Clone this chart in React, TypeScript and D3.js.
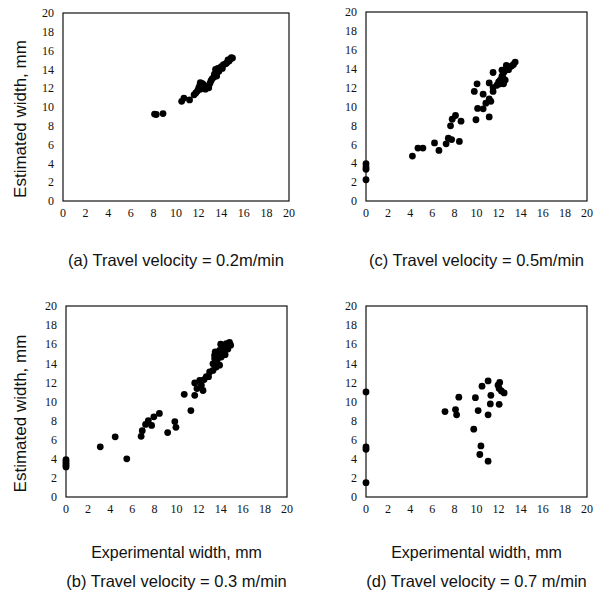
import React from "react";
import * as d3 from "d3";

// values: [experimental, estimated] in mm
const panelA: [number, number][] = [
  [8.1, 9.25], [8.25, 9.2], [8.85, 9.3],
  [10.5, 10.6], [10.7, 10.95], [11.2, 10.75],
  [11.6, 11.3], [11.75, 11.5], [11.9, 11.7], [12.0, 12.0], [12.1, 12.3],
  [12.15, 12.6], [12.3, 12.5], [12.35, 12.2], [12.5, 12.0], [12.6, 11.9],
  [12.15, 11.9], [12.7, 12.2], [12.9, 12.05], [13.0, 12.5], [13.1, 12.8],
  [13.2, 13.0], [13.35, 13.2], [13.5, 13.4], [13.6, 13.7], [13.5, 14.0],
  [13.7, 14.1], [13.8, 13.8], [13.6, 13.3], [14.0, 14.3], [14.2, 14.5],
  [14.4, 14.6], [14.5, 14.7], [14.7, 14.9], [14.8, 15.1], [14.9, 15.25],
  [15.0, 15.2], [14.6, 15.0], [13.4, 13.5], [12.4, 12.4], [14.1, 14.1]
];

const panelC: [number, number][] = [
  [0, 3.95], [0, 3.6], [0, 3.35], [0, 2.25],
  [4.2, 4.75], [4.7, 5.6], [5.15, 5.6], [6.2, 6.15], [6.6, 5.35],
  [7.25, 6.05], [7.45, 6.65], [7.75, 6.5], [7.65, 7.95], [7.8, 8.65],
  [8.1, 9.05], [8.6, 8.45], [8.45, 6.3], [9.95, 8.6], [9.8, 11.6],
  [10.05, 12.4], [10.1, 9.8], [10.6, 11.3], [10.6, 9.75], [10.85, 10.35],
  [11.15, 10.8], [11.3, 10.55], [11.15, 8.9], [11.15, 12.5], [11.5, 13.6],
  [11.5, 12.0], [11.5, 11.6], [11.85, 12.25], [12.15, 12.4], [12.3, 13.2],
  [12.5, 13.65], [12.75, 14.0], [13.05, 14.2], [13.35, 14.45], [13.5, 14.7],
  [12.15, 12.8], [12.4, 13.05], [12.0, 12.6], [12.3, 13.85], [12.7, 14.35],
  [12.9, 13.9], [12.45, 12.4], [12.6, 12.8], [13.2, 14.3]
];

const panelB: [number, number][] = [
  [0, 3.9], [0, 3.7], [0, 3.5], [0, 3.3], [0, 3.15],
  [3.1, 5.25], [4.45, 6.3], [5.5, 4.0], [6.8, 6.35], [6.9, 6.95],
  [7.2, 7.6], [7.45, 8.0], [7.75, 7.5], [7.95, 8.4], [8.45, 8.75],
  [9.2, 6.75], [9.85, 7.9], [9.95, 7.3], [10.7, 10.75], [11.3, 9.05],
  [11.65, 10.65], [11.85, 11.35], [11.65, 11.95], [12.1, 12.2], [12.4, 11.15],
  [12.25, 11.7], [12.7, 12.6], [13.0, 13.1], [13.3, 13.25], [13.6, 14.15],
  [13.45, 14.5], [13.75, 15.0], [13.9, 15.35], [14.2, 15.7], [14.5, 16.05],
  [14.8, 16.2], [14.65, 15.5], [14.05, 14.65], [13.6, 13.6], [13.9, 13.8],
  [13.3, 13.95], [13.45, 14.85], [14.3, 15.2], [14.0, 16.0], [14.9, 15.9],
  [13.7, 14.4], [14.4, 14.9], [13.5, 15.2], [12.9, 12.6], [12.5, 12.3]
];

const panelD: [number, number][] = [
  [0, 11.0], [0, 5.25], [0, 5.0], [0, 1.5],
  [7.15, 8.95], [8.1, 9.15], [8.2, 8.6], [8.4, 10.45], [9.75, 7.1],
  [9.9, 10.4], [10.15, 9.05], [10.4, 5.35], [10.3, 4.45], [10.5, 11.6],
  [11.05, 12.15], [11.05, 8.6], [11.05, 3.75], [11.3, 10.65], [11.25, 9.75],
  [12.05, 9.7], [12.1, 12.0], [11.95, 11.7], [12.05, 11.35], [12.25, 11.1],
  [12.5, 10.9]
];

const ticks = [0, 2, 4, 6, 8, 10, 12, 14, 16, 18, 20];

const captions = [
  "(a) Travel velocity = 0.2m/min",
  "(c) Travel velocity = 0.5m/min",
  "(b) Travel velocity = 0.3 m/min",
  "(d) Travel velocity = 0.7 m/min"
];

const yTitle = "Estimated width, mm";
const xTitle = "Experimental width, mm";

const sans = "'Liberation Sans', Arial, sans-serif";
const serif = "'Liberation Serif', 'Times New Roman', serif";

type Panel = {
  data: [number, number][];
  x0: number; x1: number; y0: number; y1: number;
  caption: string; capY: number;
  yLabel: boolean; xLabel: boolean;
};

const panels: Panel[] = [
  { data: panelA, x0: 63, x1: 289, y0: 201, y1: 13, caption: captions[0], capY: 266, yLabel: true, xLabel: false },
  { data: panelC, x0: 366, x1: 587, y0: 201, y1: 12, caption: captions[1], capY: 266, yLabel: false, xLabel: false },
  { data: panelB, x0: 66, x1: 287, y0: 497, y1: 306, caption: captions[2], capY: 587, yLabel: true, xLabel: true },
  { data: panelD, x0: 366, x1: 587, y0: 497, y1: 306, caption: captions[3], capY: 587, yLabel: false, xLabel: true }
];

function Scatter({ p }: { p: Panel }) {
  const x = d3.scaleLinear().domain([0, 20]).range([p.x0, p.x1]);
  const y = d3.scaleLinear().domain([0, 20]).range([p.y0, p.y1]);
  const cx = (p.x0 + p.x1) / 2;
  return (
    <g>
      <rect x={p.x0} y={p.y1} width={p.x1 - p.x0} height={p.y0 - p.y1}
        fill="none" stroke="#111" strokeWidth={1.2} />
      {ticks.map((t) => (
        <text key={"y" + t} x={p.x0 - 9} y={y(t)} dy="0.35em" textAnchor="end"
          fontFamily={serif} fontSize={12} fill="#111">{t}</text>
      ))}
      {ticks.map((t) => (
        <text key={"x" + t} x={x(t)} y={p.y0 + 16} textAnchor="middle"
          fontFamily={serif} fontSize={12} fill="#111">{t}</text>
      ))}
      {p.data.map((d, i) => (
        <circle key={i} cx={x(d[0])} cy={y(d[1])} r={3.4} fill="#000" />
      ))}
      {p.yLabel && (
        <text transform={`translate(26,${(p.y0 + p.y1) / 2 + 12}) rotate(-90)`}
          textAnchor="middle" fontFamily={sans} fontSize={17} fill="#111">{yTitle}</text>
      )}
      {p.xLabel && (
        <text x={cx} y={558} textAnchor="middle" fontFamily={sans} fontSize={16} fill="#111">{xTitle}</text>
      )}
      <text x={cx} y={p.capY} textAnchor="middle" fontFamily={sans} fontSize={16.5} fill="#111">{p.caption}</text>
    </g>
  );
}

export default function App() {
  return (
    <svg width={593} height={603} style={{ position: "absolute", left: 0, top: 0, background: "#fff" }}>
      {panels.map((p, i) => <Scatter key={i} p={p} />)}
    </svg>
  );
}
